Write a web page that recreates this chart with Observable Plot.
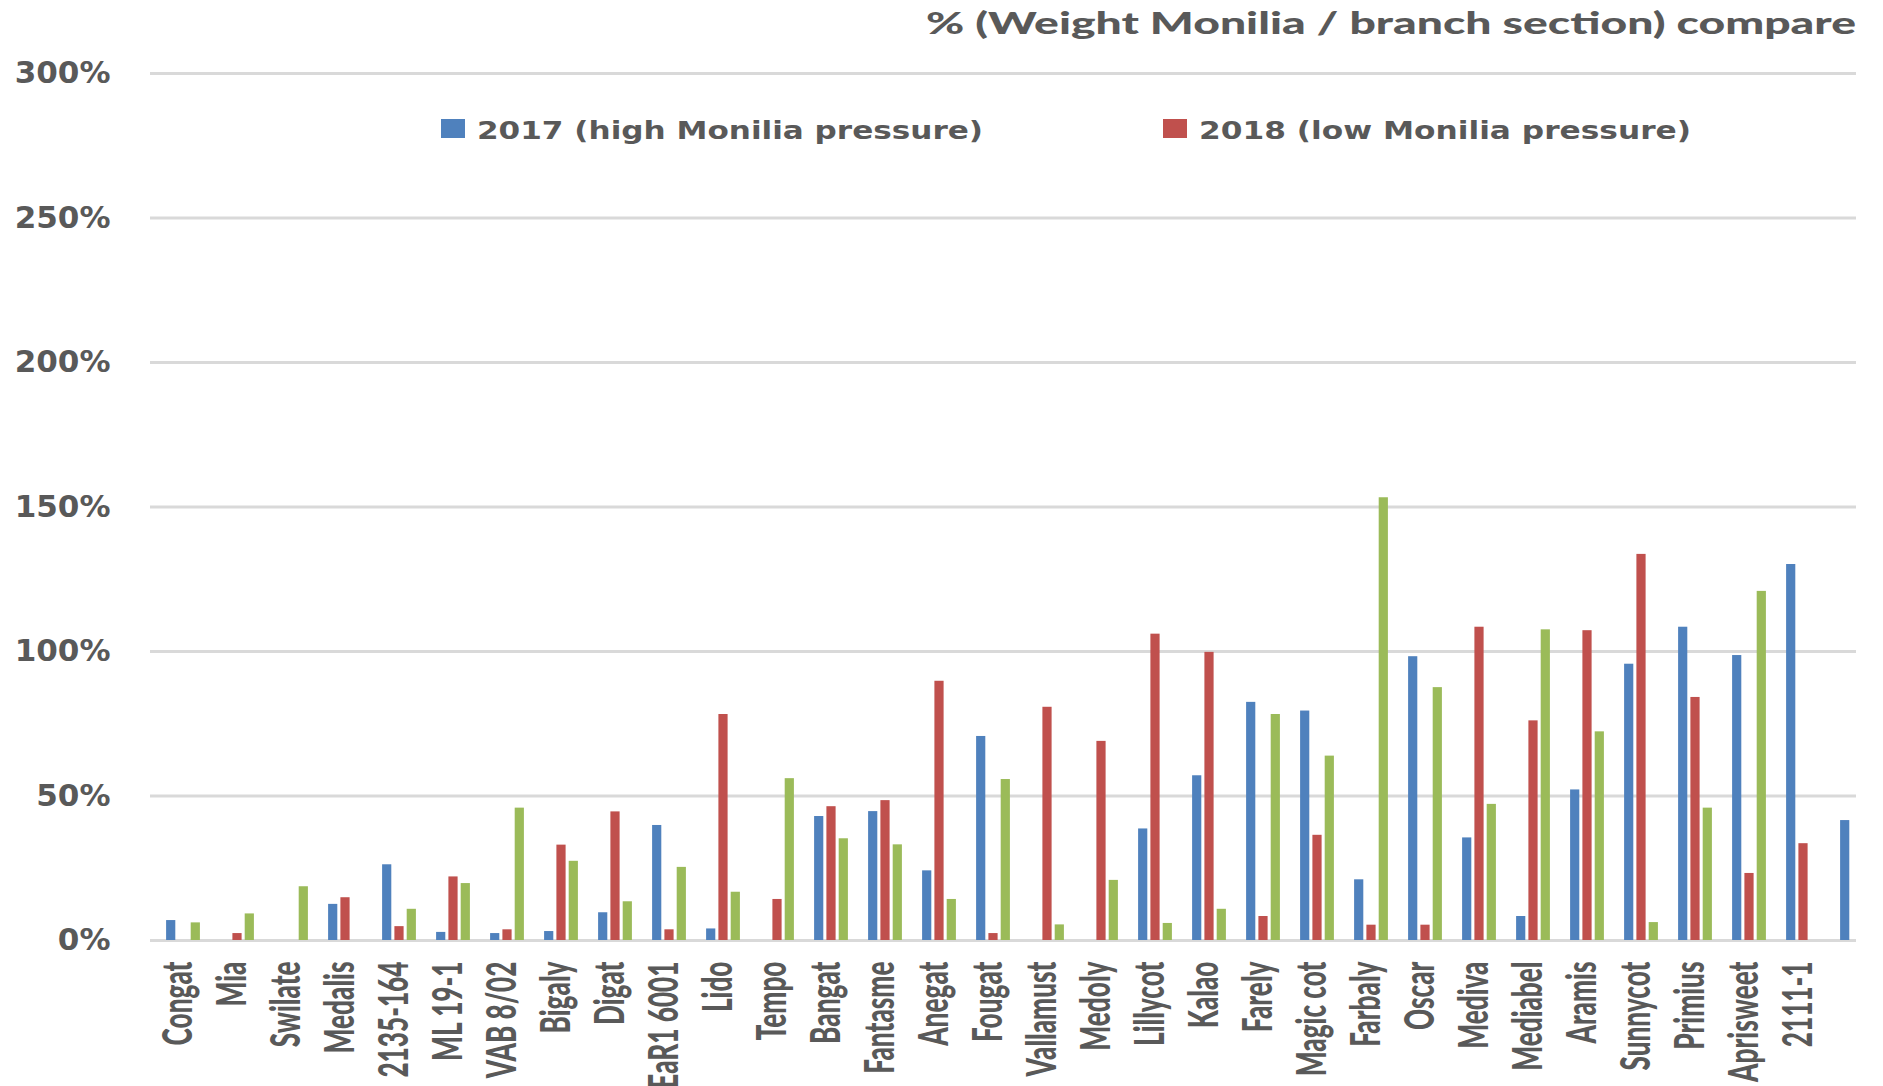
<!DOCTYPE html>
<html>
<head>
<meta charset="utf-8">
<script src="https://cdn.jsdelivr.net/npm/d3@7"></script>
<script src="https://cdn.jsdelivr.net/npm/@observablehq/plot@0.6"></script>
<style>
  body { margin: 0; background: #fff; }
  #wrap { position: relative; width: 1856px; height: 1086px; overflow: hidden; background: #fff; }
  .t { position: absolute; white-space: nowrap; color: #595959; transform-origin: 0 0; }
  .sw { position: absolute; }
</style>
</head>
<body>
<div id="wrap"></div>
<script>
// ---- data ----
const titleText = "% (Weight Monilia / branch section) compare";
const categories = ["Congat","Mia","Swilate","Medalis","2135-164","ML 19-1","VAB 8/02","Bigaly","Digat","EaR1 6001","Lido","Tempo","Bangat","Fantasme","Anegat","Fougat","Vallamust","Medoly","Lillycot","Kalao","Farely","Magic cot","Farbaly","Oscar","Mediva","Mediabel","Aramis","Sunnycot","Primius","Aprisweet","2111-1",""];
const seriesNames = ["2017 (high Monilia pressure)", "2018 (low Monilia pressure)", "2019"];
const seriesColors = ["#4f81bd", "#c0504d", "#9bbb59"];
const v2017 = [6.9,null,null,12.5,26.2,2.8,2.4,3.1,9.6,39.8,4.0,null,42.9,44.6,24.1,70.6,null,null,38.6,57.0,82.4,79.4,21.0,98.2,35.5,8.3,52.1,95.6,108.4,98.6,130.1,41.5];
const v2018 = [null,2.4,null,14.8,4.8,22.0,3.7,33.0,44.5,3.7,78.2,14.2,46.3,48.4,89.7,2.4,80.7,68.9,106.0,99.7,8.3,36.4,5.3,5.3,108.4,76.0,107.2,133.6,84.1,23.2,33.5,null];
const v2019 = [6.1,9.2,18.6,null,10.8,19.7,45.8,27.4,13.4,25.3,16.7,56.0,35.2,33.1,14.2,55.7,5.4,20.8,5.9,10.8,78.2,63.8,153.2,87.5,47.1,107.5,72.2,6.2,45.8,120.8,null,null];
const yTicks = [0, 50, 100, 150, 200, 250, 300];

const seriesValues = [v2017, v2018, v2019];
const rows = seriesNames.flatMap((s, i) =>
  categories.map((c, j) => ({category: c, series: s, value: seriesValues[i][j]}))
).filter(d => d.value != null);

const wrap = document.getElementById("wrap");
const offsets = [-12.3, 0, 12.3];

const chart = Plot.plot({
  width: 1890,
  height: 1086,
  marginLeft: 150,
  marginRight: 0,
  marginTop: 73,
  marginBottom: 146,
  style: "max-width:none;overflow:hidden;background:white;font-family:'DejaVu Sans',sans-serif;font-size:31px;font-weight:700;color:#595959;",
  x: {domain: categories, padding: 0, axis: null},
  y: {domain: [0, 300], ticks: yTicks, tickFormat: d => d + "%", tickSize: 0, tickPadding: 40, label: null},
  color: {domain: seriesNames, range: seriesColors},
  marks: [
    Plot.ruleY(yTicks, {stroke: "#d9d9d9", strokeWidth: 3}),
    ...seriesNames.map((s, i) => Plot.barY(rows.filter(r => r.series === s), {
      x: "category", y: "value", fill: "series", dx: offsets[i], insetLeft: 22.4, insetRight: 22.4
    })),
    Plot.text(categories, {
      x: d => d, frameAnchor: "bottom", rotate: -90, textAnchor: "end",
      dy: 21, dx: 8, fontSize: 41, fontWeight: 900, fontFamily: "Lato", fill: "#595959"
    })
  ]
});
wrap.appendChild(chart);

// condense the rotated category labels (narrow, heavy lettering of the original)
const labels = d3.select(chart).selectAll('g[aria-label="text"] text');
const refNode = labels.filter(function () { return this.textContent === "Congat"; }).node();
const k = refNode ? 84 / refNode.getComputedTextLength() : 0.65;
labels.each(function () {
  this.setAttribute("transform", (this.getAttribute("transform") || "") + ` scale(${k},1)`);
});

// title and legend (HTML, placed over the chart)
function addLabel(str, left, baseline, font, width) {
  const el = document.createElement("div");
  el.className = "t";
  el.style.font = font;
  el.style.lineHeight = "1";
  el.style.left = left + "px";
  el.textContent = str;
  const probe = document.createElement("span");
  probe.style.cssText = "display:inline-block;width:0;height:0;vertical-align:baseline;";
  el.appendChild(probe);
  wrap.appendChild(el);
  const natural = el.getBoundingClientRect().width;
  el.style.top = (baseline - probe.offsetTop) + "px";
  el.style.transform = `scaleX(${width / natural})`;
}
function addSwatch(color, left) {
  const sw = document.createElement("div");
  sw.className = "sw";
  sw.style.cssText += `left:${left}px;top:119px;width:24px;height:19px;background:${color};`;
  wrap.appendChild(sw);
}
addLabel(titleText, 926, 34, "900 30px Lato", 930);
addSwatch(seriesColors[0], 441);
addLabel(seriesNames[0], 477, 139, "700 25px 'DejaVu Sans'", 506);
addSwatch(seriesColors[1], 1163);
addLabel(seriesNames[1], 1199, 139, "700 25px 'DejaVu Sans'", 492);
</script>
</body>
</html>
